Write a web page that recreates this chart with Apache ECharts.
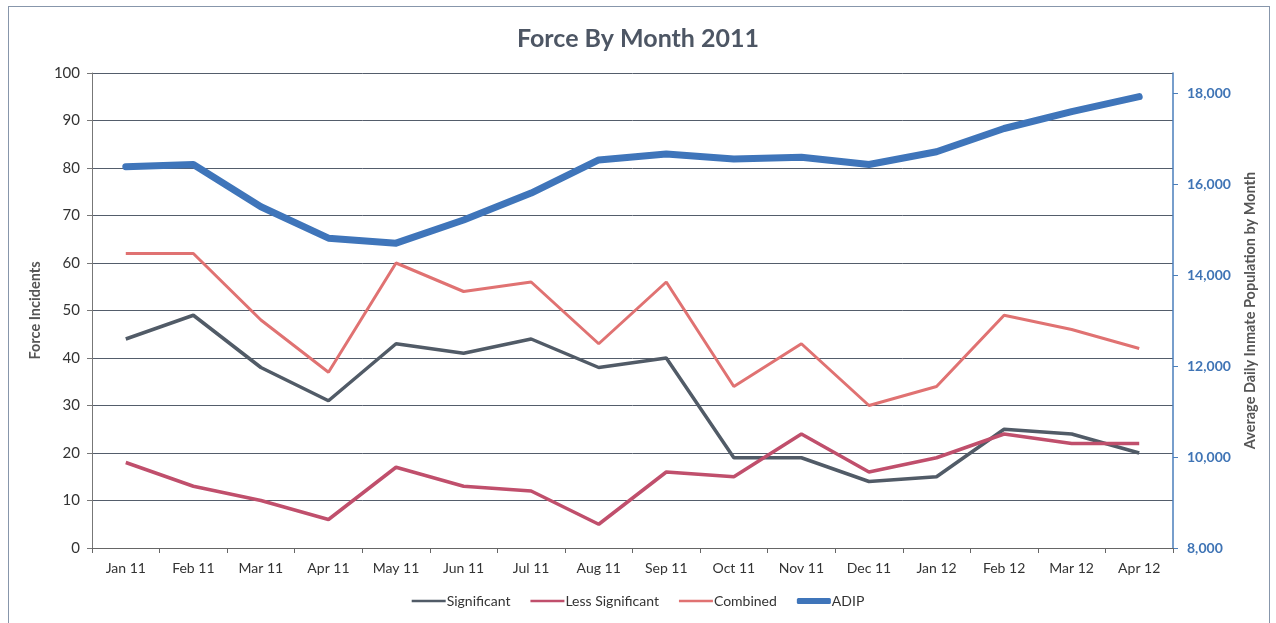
<!DOCTYPE html>
<html>
<head>
<meta charset="utf-8">
<script src="https://cdn.jsdelivr.net/npm/echarts@6/dist/echarts.min.js"></script>
<style>
  html, body { margin: 0; padding: 0; background: #fff; }
  #frame { position: absolute; left: 8px; top: 6px; width: 1262px; height: 640px; border: 1px solid #8796ab; box-sizing: border-box; }
  #chart { width: 1276px; height: 623px; }
</style>
</head>
<body>
<div id="frame"></div>
<div id="chart"></div>
<script>
const months = ['Jan 11', 'Feb 11', 'Mar 11', 'Apr 11', 'May 11', 'Jun 11', 'Jul 11', 'Aug 11',
  'Sep 11', 'Oct 11', 'Nov 11', 'Dec 11', 'Jan 12', 'Feb 12', 'Mar 12', 'Apr 12']
const significant = [44, 49, 38, 31, 43, 41, 44, 38, 40, 19, 19, 14, 15, 25, 24, 20]
const lessSignificant = [18, 13, 10, 6, 17, 13, 12, 5, 16, 15, 24, 16, 19, 24, 22, 22]
const combined = [62, 62, 48, 37, 60, 54, 56, 43, 56, 34, 43, 30, 34, 49, 46, 42]
const adip = [16380, 16430, 15500, 14810, 14700, 15210, 15800, 16530, 16660, 16550, 16590,
  16430, 16710, 17220, 17590, 17920]

const font = 'Lato, "Open Sans", sans-serif'
// thin bar centred in the legend box (tiny corner dots keep the bounding box full height)
const thinIcon = 'path://M0,0L0.01,0L0.01,0.01ZM0,1.6L40,1.6L40,4.4L0,4.4ZM0,6L0.01,6L0.01,5.99Z'
const chart = echarts.init(document.getElementById('chart'))

const option = {
  backgroundColor: 'transparent',
  animation: false,
  textStyle: { fontFamily: font },
  title: {
    text: 'Force By Month 2011',
    left: 'center',
    top: 21,
    textStyle: { fontFamily: font, fontSize: 25, fontWeight: 'bold', color: '#4d5664' }
  },
  grid: { left: 92, right: 103, top: 73, bottom: 75 },
  legend: {
    bottom: 10,
    left: 'center',
    itemWidth: 34,
    itemHeight: 6,
    itemGap: 20,
    textStyle: { fontFamily: font, fontSize: 14, color: '#333', padding: [0, 0, 0, -4] },
    data: [
      { name: 'Significant', icon: thinIcon },
      { name: 'Less Significant', icon: thinIcon },
      { name: 'Combined', icon: thinIcon },
      { name: 'ADIP', icon: 'roundRect' }
    ]
  },
  xAxis: {
    type: 'category',
    data: months,
    axisLine: { lineStyle: { color: '#666', width: 1 } },
    axisTick: { show: true, length: 5, lineStyle: { color: '#666' } },
    axisLabel: { color: '#333', fontSize: 14, margin: 13, fontFamily: font }
  },
  yAxis: [
    {
      type: 'value',
      min: 0,
      max: 100,
      interval: 10,
      name: 'Force Incidents',
      nameLocation: 'middle',
      nameGap: 47,
      nameTextStyle: { fontFamily: font, fontSize: 14.5, fontWeight: 'bold', color: '#555' },
      axisLine: { show: true, lineStyle: { color: '#777' } },
      axisTick: { show: true, length: 5, lineStyle: { color: '#777' } },
      axisLabel: { color: '#333', fontSize: 15, margin: 12, fontFamily: font },
      splitLine: { lineStyle: { color: '#545d6b', width: 1 } }
    },
    {
      type: 'value',
      min: 8000,
      max: 18440,
      interval: 2000,
      position: 'right',
      name: 'Average Daily Inmate Population by Month',
      nameLocation: 'middle',
      nameGap: 70,
      nameRotate: 90,
      nameTextStyle: { fontFamily: font, fontSize: 14.5, fontWeight: 'bold', color: '#555' },
      axisLine: { show: true, lineStyle: { color: '#4a7ebb', width: 1.5 } },
      axisTick: { show: true, length: 5, lineStyle: { color: '#4a7ebb' } },
      axisLabel: {
        color: '#3f74b5',
        fontSize: 14,
        fontWeight: 'bold',
        margin: 14,
        fontFamily: font,
        showMaxLabel: false,
        formatter: (v) => v.toLocaleString('en-US')
      },
      splitLine: { show: false }
    }
  ],
  series: [
    {
      name: 'Significant',
      type: 'line',
      data: significant,
      symbol: 'none',
      itemStyle: { color: '#515b67' },
      lineStyle: { color: '#515b67', width: 3.5 }
    },
    {
      name: 'Less Significant',
      type: 'line',
      data: lessSignificant,
      symbol: 'none',
      itemStyle: { color: '#c04f6c' },
      lineStyle: { color: '#c04f6c', width: 3.5 }
    },
    {
      name: 'Combined',
      type: 'line',
      data: combined,
      symbol: 'none',
      itemStyle: { color: '#e07272' },
      lineStyle: { color: '#e07272', width: 3 }
    },
    {
      name: 'ADIP',
      type: 'line',
      yAxisIndex: 1,
      data: adip,
      symbol: 'none',
      itemStyle: { color: '#3f75ba' },
      lineStyle: { color: '#3f75ba', width: 7, cap: 'round', join: 'round' }
    }
  ]
}

chart.setOption(option)
</script>
</body>
</html>
